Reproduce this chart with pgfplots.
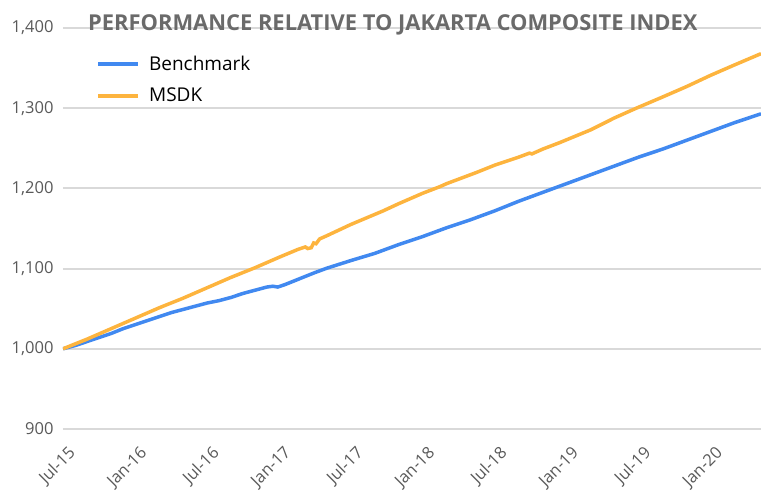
\documentclass[border=0pt]{standalone}
\usepackage{fontspec}
\setmainfont{Open Sans}
\usepackage{pgfplots}
\pgfplotsset{compat=1.18}
\definecolor{bm}{RGB}{65,137,240}
\definecolor{ms}{RGB}{253,180,62}
\definecolor{gridc}{RGB}{217,217,217}
\definecolor{tickc}{RGB}{89,89,89}
\definecolor{titlec}{RGB}{106,106,106}
\begin{document}
\begin{tikzpicture}
\begin{axis}[
  scale only axis, width=698pt, height=401pt,
  xmin=0, xmax=58.2, ymin=900, ymax=1400,
  axis line style={draw=none},
  major tick length=0pt,
  ytick={900,1000,...,1400},
  yticklabels={900,{1,000},{1,100},{1,200},{1,300},{1,400}},
  ymajorgrids, grid style={gridc, line width=2pt},
  xtick={0,6,...,54},
  xticklabels={Jul-15,Jan-16,Jul-16,Jan-17,Jul-17,Jan-18,Jul-18,Jan-19,Jul-19,Jan-20},
  tick label style={font=\fontsize{16.5}{19}\selectfont, text=tickc},
  yticklabel style={xshift=-6pt},
  xticklabel style={rotate=45, anchor=north east, xshift=-5pt, yshift=-11pt},
  legend style={at={(rel axis cs:0.045,0.94)}, anchor=north west, draw=none, fill=none,
    font=\fontsize{19}{23}\selectfont, row sep=12pt, inner sep=2pt},
  legend cell align=left,
  legend image code/.code={\draw[#1, line width=3.5pt] (0pt,0pt) -- (40pt,0pt); \path (47pt,0pt);},
  clip=true,
]
\addplot[bm, line width=3.5pt] coordinates {
(0,1000) (1,1004) (2,1009) (3,1014) (4,1019) (5,1025) (6,1030) (7,1035) (8,1040) (9,1045)
(10,1049) (11,1053) (12,1057) (13,1060) (14,1064) (15,1069) (16,1073) (17,1077) (17.5,1078)
(17.9,1077) (18.5,1080) (19,1083) (20,1089) (21,1095) (22,1100.5) (24,1110) (26,1119)
(28,1130) (30,1140) (32,1151) (34,1161) (36,1172) (38,1184) (40,1195) (42,1206) (44,1217)
(46,1228) (48,1239) (50,1249) (52,1260) (54,1271) (56,1282) (58.2,1293)
};
\addlegendentry{Benchmark}
\addplot[ms, line width=3.5pt] coordinates {
(0,1000) (2,1012) (4,1025) (6,1038) (8,1051) (10,1063) (12,1076) (14,1089) (16,1101) (18,1114)
(19.6,1124) (20.2,1127) (20.4,1125) (20.7,1126) (20.9,1132) (21.1,1131) (21.4,1137) (22,1141)
(24,1155) (26.7,1172) (28,1181) (30,1194) (31.4,1202) (32,1206) (34.5,1220) (36,1229)
(38,1239) (38.9,1244) (39.1,1243) (40,1249) (41.4,1257) (44,1273) (46,1288) (47.8,1300)
(50,1314) (52,1327) (54,1341) (56,1354) (58.2,1368)
};
\addlegendentry{MSDK}
\coordinate (bl) at (rel axis cs:0,0);
\coordinate (tr) at (rel axis cs:1,1);
\coordinate (tl) at (rel axis cs:0,1);
\end{axis}
\node[anchor=base west, inner sep=0pt, text=titlec, font=\fontsize{21.9}{24}\bfseries\selectfont]
  at ([xshift=25pt,yshift=-3pt]tl) {PERFORMANCE RELATIVE TO JAKARTA COMPOSITE INDEX};
\pgfresetboundingbox
\path[use as bounding box] ([xshift=-63pt,yshift=-62pt]bl) rectangle ([yshift=28pt]tr);
\end{tikzpicture}
\end{document}
